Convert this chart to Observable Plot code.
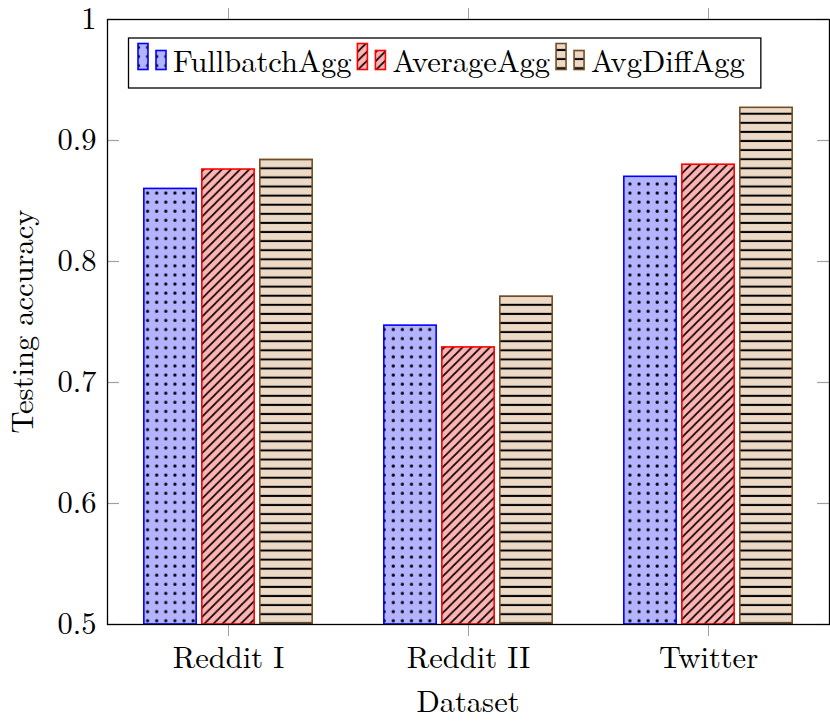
<!DOCTYPE html>
<html>
<head>
<meta charset="utf-8">
<script src="https://cdn.jsdelivr.net/npm/d3@7"></script>
<script src="https://cdn.jsdelivr.net/npm/@observablehq/plot@0.6"></script>
<style>
  html, body { margin: 0; padding: 0; background: #fff; }
  #chart svg { display: block; }
</style>
</head>
<body>
<div id="chart"></div>
<script>
// ---- data ----
const datasets = ["Reddit I", "Reddit II", "Twitter"];
const seriesNames = ["FullbatchAgg", "AverageAgg", "AvgDiffAgg"];
const fullbatchAgg = [0.860, 0.747, 0.870];
const averageAgg   = [0.876, 0.729, 0.880];
const avgDiffAgg   = [0.884, 0.771, 0.927];
const yTicks = [0.5, 0.6, 0.7, 0.8, 0.9, 1];
const yTickLabels = ["0.5", "0.6", "0.7", "0.8", "0.9", "1"];

const seriesValues = [fullbatchAgg, averageAgg, avgDiffAgg];
const styles = [
  {fill: "url(#pDots)", stroke: "#0000ff"},
  {fill: "url(#pDiag)", stroke: "#ff0000"},
  {fill: "url(#pHoriz)", stroke: "#734d26"}
];

const W = 830, H = 721;
const mL = 107, mR = 1, mT = 19, mB = 97;
const plotW = W - mL - mR, plotH = H - mT - mB;
const band = plotW / datasets.length;
const barW = 53, barStep = 58;
const groupW = barW * 3 + (barStep - barW) * 2;
const outer = (band - groupW) / 2;
const FONT = "'Latin Modern Roman','CMU Serif','Liberation Serif',serif";
const FS = 30.5;

const marks = [];
seriesValues.forEach((vals, i) => {
  const rows = datasets.map((d, j) => ({dataset: d, value: vals[j]}));
  const insetLeft = outer + i * barStep;
  const insetRight = band - insetLeft - barW;
  marks.push(Plot.barY(rows, {
    x: "dataset", y1: 0.5, y2: "value",
    fill: styles[i].fill, stroke: styles[i].stroke, strokeWidth: 1.6,
    insetLeft, insetRight
  }));
});
// inner y ticks on left and right
marks.push(Plot.tickY(yTicks, {y: d => d, stroke: "#a0a0a0", strokeWidth: 1.2, insetRight: plotW - 12}));
marks.push(Plot.tickY(yTicks, {y: d => d, stroke: "#a0a0a0", strokeWidth: 1.2, insetLeft: plotW - 12}));
marks.push(Plot.axisY({
  ticks: yTicks, tickSize: 0, tickPadding: 11,
  tickFormat: d => yTickLabels[yTicks.indexOf(d)],
  label: null, fontSize: FS, fill: "#000"
}));
marks.push(Plot.axisX({
  anchor: "bottom", tickSize: 12, tickPadding: 10, stroke: "#a0a0a0",
  label: null, fontSize: FS, fill: "#000"
}));
marks.push(Plot.axisX({
  anchor: "top", tickSize: 12, stroke: "#a0a0a0",
  tickFormat: () => "", label: null
}));
marks.push(Plot.frame({stroke: "#000", strokeWidth: 1.3}));

const chart = Plot.plot({
  width: W, height: H,
  marginLeft: mL, marginRight: mR, marginTop: mT, marginBottom: mB,
  style: {fontFamily: FONT, fontSize: FS + "px", background: "#fff", color: "#000", overflow: "visible"},
  x: {domain: datasets, padding: 0, axis: null},
  y: {domain: [0.5, 1], axis: null},
  marks
});

const svg = d3.select(chart);
const defs = svg.insert("defs", ":first-child");
// dots pattern
const pd = defs.append("pattern").attr("id", "pDots").attr("patternUnits", "userSpaceOnUse")
  .attr("width", 9.1).attr("height", 9.1);
pd.append("rect").attr("width", 9.1).attr("height", 9.1).attr("fill", "#b3b3ff");
pd.append("rect").attr("x", 0.5).attr("y", 0.5).attr("width", 3).attr("height", 3).attr("rx", 1).attr("fill", "#000");
// diagonal (north east) lines
const pg = defs.append("pattern").attr("id", "pDiag").attr("patternUnits", "userSpaceOnUse")
  .attr("width", 9.1).attr("height", 9.1);
pg.append("rect").attr("width", 9.1).attr("height", 9.1).attr("fill", "#ffb3b3");
pg.append("path").attr("d", "M-1,10.1 L10.1,-1 M-3,3 L3,-3 M6.1,12.1 L12.1,6.1")
  .attr("stroke", "#000").attr("stroke-width", 1.7);
// horizontal lines
const ph = defs.append("pattern").attr("id", "pHoriz").attr("patternUnits", "userSpaceOnUse")
  .attr("width", 9.1).attr("height", 9.1);
ph.append("rect").attr("width", 9.1).attr("height", 9.1).attr("fill", "#eddac6");
ph.append("rect").attr("y", 3.5).attr("width", 9.1).attr("height", 2).attr("fill", "#000");

// axis titles
svg.append("text").attr("x", mL + plotW / 2).attr("y", 712)
  .attr("text-anchor", "middle").attr("font-family", FONT).attr("font-size", FS)
  .attr("fill", "#000").text("Dataset");
svg.append("text").attr("transform", `translate(33,${mT + plotH / 2}) rotate(-90)`)
  .attr("text-anchor", "middle").attr("font-family", FONT).attr("font-size", FS)
  .attr("fill", "#000").text("Testing accuracy");

// legend
const lg = svg.append("g").attr("text-anchor", "start");
const box = lg.append("rect").attr("x", 128.5).attr("y", 38).attr("height", 50)
  .attr("fill", "#fff").attr("stroke", "#000").attr("stroke-width", 1.3);
document.getElementById("chart").appendChild(chart);
let cx = 138;
seriesNames.forEach((name, i) => {
  lg.append("rect").attr("x", cx).attr("y", 43.5).attr("width", 10).attr("height", 26)
    .attr("fill", styles[i].fill).attr("stroke", styles[i].stroke).attr("stroke-width", 1.6);
  lg.append("rect").attr("x", cx + 18).attr("y", 50.5).attr("width", 10).attr("height", 19)
    .attr("fill", styles[i].fill).attr("stroke", styles[i].stroke).attr("stroke-width", 1.6);
  const t = lg.append("text").attr("x", cx + 35).attr("y", 72).attr("text-anchor", "start")
    .attr("font-family", FONT).attr("font-size", FS).attr("fill", "#000").text(name);
  const len = t.node().getComputedTextLength();
  cx = cx + 35 + len + 6;
});
box.attr("width", cx - 128.5 + 10);
</script>
</body>
</html>
